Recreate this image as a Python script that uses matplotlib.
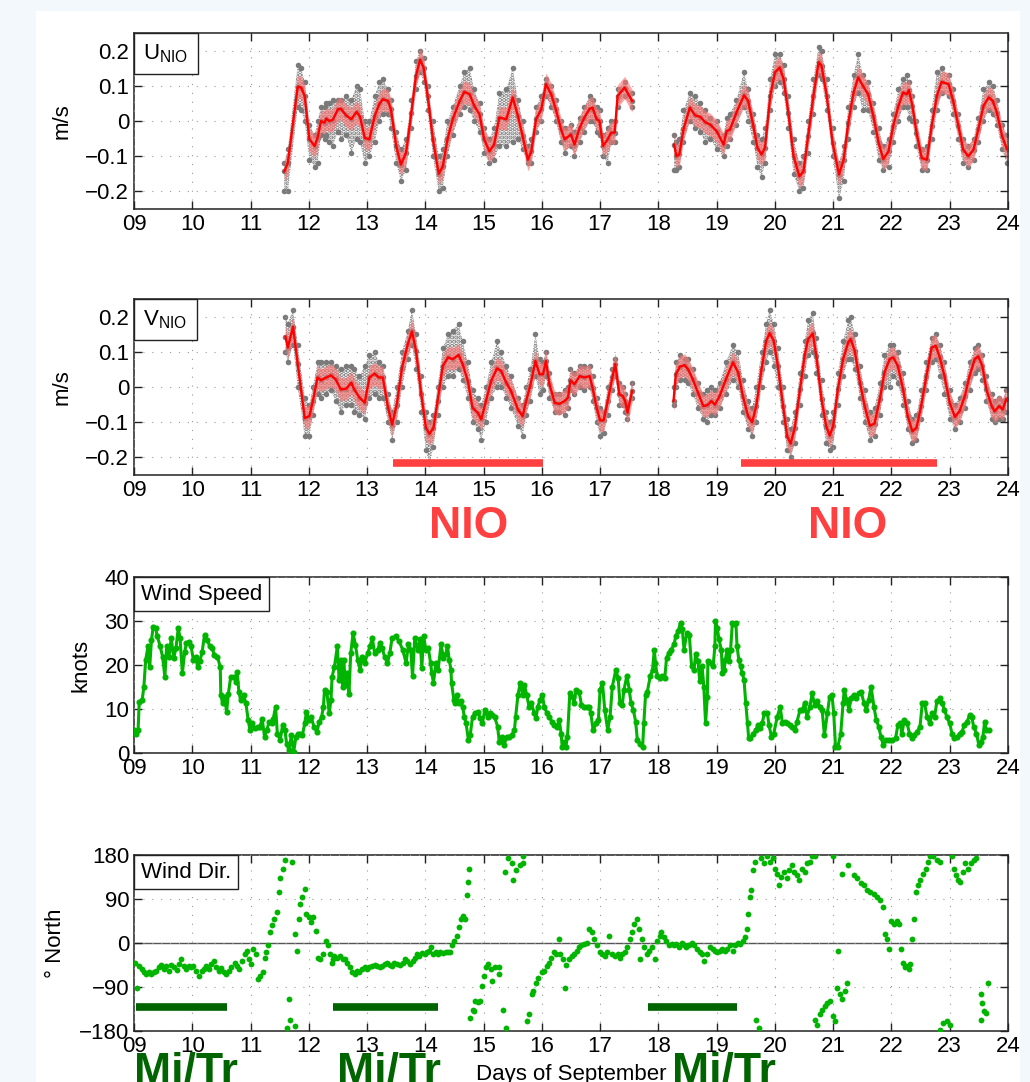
import numpy as np
import matplotlib
matplotlib.use('Agg')
import matplotlib.pyplot as plt
from matplotlib.offsetbox import AnchoredText
from matplotlib.patches import Rectangle

plt.rcParams['font.family'] = ['Liberation Sans', 'DejaVu Sans']
plt.rcParams['hatch.linewidth'] = 2.2

# ---- U_NIO (m/s): smoothed line and spread of the raw points, two segments
u1_t = [11.58, 11.64, 11.81, 11.87, 11.93, 12.01, 12.10, 12.15, 12.21, 12.27,
        12.30, 12.35, 12.41, 12.50, 12.55, 12.64, 12.73, 12.82, 12.88, 12.96,
        13.04, 13.13, 13.21, 13.27, 13.36, 13.41, 13.50, 13.58, 13.67, 13.76,
        13.84, 13.91, 13.97, 14.04, 14.13, 14.23, 14.30, 14.38, 14.47, 14.59,
        14.67, 14.76, 14.84, 14.93, 15.01, 15.10, 15.18, 15.27, 15.39, 15.50,
        15.59, 15.67, 15.76, 15.82, 15.90, 15.99, 16.07, 16.16, 16.24, 16.33,
        16.39, 16.50, 16.56, 16.65, 16.73, 16.82, 16.87, 16.94, 16.99, 17.05,
        17.13, 17.19, 17.25, 17.30, 17.42, 17.55]
u1_mean = [-0.143, -0.119, 0.098, 0.095, 0.071, -0.052, -0.071, -0.048, 0.0, -0.005,
           0.007, 0.0, 0.003, 0.033, 0.035, 0.016, 0.005, 0.026, 0.012, -0.048,
           -0.052, 0.014, 0.048, 0.062, 0.057, 0.033, -0.071, -0.124, -0.09, 0.024,
           0.129, 0.174, 0.152, 0.071, -0.052, -0.15, -0.129, -0.052, 0.005, 0.057,
           0.083, 0.076, 0.043, 0.019, -0.052, -0.086, -0.067, 0.01, 0.005, 0.067,
           0.014, -0.043, -0.11, -0.086, 0.005, 0.033, 0.105, 0.076, 0.033, -0.024,
           -0.052, -0.038, -0.067, -0.019, 0.01, 0.035, 0.038, 0.005, 0.0, -0.071,
           -0.052, -0.033, -0.033, 0.071, 0.095, 0.057]
u1_hi = [-0.12, -0.08, 0.16, 0.15, 0.11, -0.01, -0.04, 0.0, 0.04, 0.04,
         0.05, 0.05, 0.06, 0.06, 0.06, 0.07, 0.06, 0.10, 0.09, 0.0,
         0.0, 0.07, 0.11, 0.12, 0.09, 0.06, -0.03, -0.08, -0.05, 0.06,
         0.17, 0.20, 0.18, 0.10, 0.0, -0.10, -0.08, 0.0, 0.04, 0.10,
         0.14, 0.15, 0.09, 0.05, -0.02, -0.05, -0.02, 0.08, 0.09, 0.15,
         0.06, 0.0, -0.07, -0.05, 0.04, 0.07, 0.12, 0.10, 0.06, 0.0,
         -0.02, -0.01, -0.03, 0.01, 0.04, 0.07, 0.06, 0.04, 0.03, -0.04,
         -0.02, 0.0, 0.0, 0.09, 0.11, 0.08]
u1_lo = [-0.20, -0.20, 0.04, 0.03, 0.0, -0.11, -0.13, -0.12, -0.04, -0.05,
         -0.04, -0.06, -0.07, -0.03, -0.05, -0.04, -0.09, -0.05, -0.06, -0.12,
         -0.10, -0.06, 0.0, 0.02, 0.02, -0.02, -0.12, -0.17, -0.14, -0.02,
         0.09, 0.14, 0.11, 0.03, -0.10, -0.20, -0.19, -0.10, -0.04, 0.02,
         0.04, 0.03, 0.0, -0.03, -0.09, -0.12, -0.11, -0.07, -0.07, -0.06,
         -0.05, -0.08, -0.12, -0.12, -0.03, 0.0, 0.07, 0.04, 0.0, -0.06,
         -0.09, -0.07, -0.10, -0.06, -0.03, 0.0, 0.0, -0.03, -0.04, -0.10,
         -0.12, -0.06, -0.06, 0.04, 0.07, 0.04]

u2_t = [18.27, 18.31, 18.36, 18.43, 18.54, 18.63, 18.72, 18.80, 18.89, 19.00,
        19.12, 19.17, 19.23, 19.34, 19.47, 19.54, 19.63, 19.70, 19.77, 19.83,
        19.92, 20.00, 20.08, 20.15, 20.23, 20.32, 20.42, 20.49, 20.57, 20.66,
        20.75, 20.80, 20.89, 20.99, 21.10, 21.18, 21.26, 21.35, 21.43, 21.51,
        21.60, 21.69, 21.78, 21.86, 21.95, 22.03, 22.12, 22.20, 22.26, 22.30,
        22.36, 22.43, 22.52, 22.61, 22.69, 22.78, 22.86, 22.98, 23.06, 23.15,
        23.23, 23.32, 23.41, 23.49, 23.58, 23.67, 23.74, 23.81, 23.90, 23.98]
u2_mean = [-0.067, -0.1, -0.095, -0.024, 0.038, 0.016, 0.012, -0.003, -0.01, -0.029,
           -0.067, -0.029, -0.024, 0.024, 0.073, 0.057, -0.014, -0.076, -0.095, -0.076,
           0.071, 0.138, 0.152, 0.119, 0.024, -0.1, -0.157, -0.143, -0.043, 0.071,
           0.167, 0.157, 0.071, -0.062, -0.152, -0.11, -0.005, 0.081, 0.124, 0.1,
           0.076, 0.014, -0.062, -0.108, -0.086, -0.014, 0.043, 0.081, 0.076, 0.088,
           0.043, -0.033, -0.105, -0.11, -0.014, 0.071, 0.111, 0.105, 0.057, -0.014,
           -0.081, -0.1, -0.081, -0.024, 0.043, 0.067, 0.057, 0.024, -0.043, -0.079]
u2_hi = [-0.04, -0.06, -0.05, 0.03, 0.08, 0.07, 0.05, 0.03, 0.01, 0.0,
         -0.04, 0.01, 0.02, 0.06, 0.14, 0.09, 0.02, -0.04, -0.05, -0.02,
         0.12, 0.19, 0.19, 0.16, 0.07, -0.05, -0.12, -0.10, 0.0, 0.12,
         0.21, 0.20, 0.12, -0.02, -0.12, -0.07, 0.04, 0.13, 0.19, 0.13,
         0.11, 0.05, -0.02, -0.07, -0.05, 0.02, 0.09, 0.12, 0.13, 0.11,
         0.07, 0.0, -0.08, -0.07, 0.03, 0.14, 0.15, 0.13, 0.09, 0.02,
         -0.05, -0.07, -0.05, 0.01, 0.09, 0.11, 0.10, 0.06, -0.01, -0.04]
u2_lo = [-0.14, -0.14, -0.13, -0.06, 0.0, -0.02, -0.03, -0.06, -0.05, -0.08,
         -0.10, -0.07, -0.05, -0.01, 0.04, 0.0, -0.06, -0.13, -0.16, -0.12,
         0.03, 0.10, 0.11, 0.08, -0.02, -0.15, -0.20, -0.19, -0.09, 0.02,
         0.13, 0.12, 0.03, -0.10, -0.22, -0.17, -0.05, 0.04, 0.08, 0.03,
         0.03, -0.03, -0.11, -0.14, -0.13, -0.06, 0.0, 0.04, 0.04, 0.01,
         0.0, -0.07, -0.14, -0.14, -0.05, 0.03, 0.08, 0.07, 0.02, -0.05,
         -0.12, -0.13, -0.11, -0.06, 0.0, 0.03, 0.02, -0.01, -0.08, -0.12]

# ---- V_NIO (m/s)
v1_t = [11.60, 11.64, 11.73, 11.81, 11.93, 12.01, 12.07, 12.15, 12.21, 12.30,
        12.38, 12.46, 12.55, 12.64, 12.73, 12.78, 12.87, 12.96, 13.04, 13.13,
        13.20, 13.27, 13.36, 13.43, 13.51, 13.60, 13.70, 13.77, 13.84, 13.93,
        14.01, 14.07, 14.14, 14.21, 14.30, 14.39, 14.47, 14.57, 14.64, 14.73,
        14.81, 14.90, 14.96, 15.04, 15.13, 15.23, 15.30, 15.39, 15.47, 15.59,
        15.67, 15.73, 15.80, 15.89, 15.96, 16.02, 16.07, 16.13, 16.22, 16.30,
        16.39, 16.45, 16.49, 16.56, 16.65, 16.73, 16.82, 16.87, 16.94, 17.00,
        17.06, 17.13, 17.21, 17.26, 17.33, 17.39, 17.43, 17.47, 17.55]
v1_mean = [0.143, 0.112, 0.171, 0.065, -0.088, -0.083, -0.04, 0.027, 0.019, 0.027,
           0.033, 0.022, -0.007, -0.005, 0.012, -0.007, -0.03, -0.045, 0.027, 0.038,
           0.027, 0.027, -0.059, -0.107, -0.05, 0.055, 0.122, 0.158, 0.103, -0.021,
           -0.116, -0.133, -0.116, -0.04, 0.06, 0.084, 0.079, 0.091, 0.065, 0.017,
           -0.059, -0.073, -0.092, -0.04, 0.017, 0.053, 0.046, 0.012, -0.011, -0.064,
           -0.083, -0.04, 0.003, 0.074, 0.036, 0.036, 0.074, 0.008, -0.045, -0.048,
           -0.04, -0.03, 0.019, 0.008, 0.031, 0.027, 0.031, -0.002, -0.059, -0.095,
           -0.095, -0.04, 0.027, 0.065, -0.021, -0.026, -0.04, -0.073, -0.011]
v1_hi = [0.20, 0.18, 0.22, 0.12, -0.03, -0.05, 0.0, 0.07, 0.07, 0.07,
         0.07, 0.06, 0.05, 0.06, 0.06, 0.05, 0.03, 0.06, 0.09, 0.10,
         0.07, 0.06, -0.02, -0.07, 0.0, 0.10, 0.16, 0.22, 0.15, 0.03,
         -0.07, -0.10, -0.08, 0.0, 0.11, 0.15, 0.16, 0.18, 0.13, 0.07,
         -0.01, -0.03, -0.05, 0.0, 0.07, 0.13, 0.10, 0.06, 0.03, -0.03,
         -0.05, 0.0, 0.05, 0.15, 0.08, 0.07, 0.10, 0.04, -0.02, -0.02,
         -0.01, 0.0, 0.05, 0.04, 0.06, 0.06, 0.06, 0.03, -0.03, -0.06,
         -0.07, 0.0, 0.05, 0.08, 0.01, 0.0, -0.02, -0.05, 0.01]
v1_lo = [0.10, 0.07, 0.12, 0.0, -0.14, -0.14, -0.08, -0.02, -0.03, -0.02,
         -0.01, -0.04, -0.07, -0.05, -0.05, -0.07, -0.08, -0.09, -0.03, -0.02,
         -0.03, -0.03, -0.10, -0.15, -0.10, 0.0, 0.08, 0.12, 0.05, -0.07,
         -0.18, -0.22, -0.17, -0.08, 0.0, 0.03, 0.03, 0.05, 0.02, -0.03,
         -0.10, -0.12, -0.15, -0.10, -0.03, 0.0, 0.0, -0.03, -0.06, -0.11,
         -0.14, -0.08, -0.04, 0.03, -0.02, -0.01, 0.03, -0.03, -0.07, -0.07,
         -0.08, -0.06, -0.01, -0.02, 0.0, -0.01, 0.0, -0.04, -0.10, -0.14,
         -0.13, -0.08, -0.01, 0.03, -0.05, -0.05, -0.07, -0.09, -0.03]

v2_t = [18.26, 18.30, 18.37, 18.45, 18.51, 18.59, 18.68, 18.77, 18.84, 18.91,
        18.97, 19.05, 19.16, 19.28, 19.37, 19.45, 19.54, 19.61, 19.68, 19.77,
        19.85, 19.91, 19.98, 20.05, 20.14, 20.21, 20.27, 20.34, 20.43, 20.51,
        20.57, 20.65, 20.71, 20.80, 20.88, 20.94, 21.00, 21.08, 21.17, 21.26,
        21.30, 21.37, 21.46, 21.54, 21.63, 21.71, 21.80, 21.88, 21.97, 22.03,
        22.11, 22.20, 22.28, 22.36, 22.43, 22.51, 22.60, 22.69, 22.76, 22.83,
        22.91, 23.00, 23.09, 23.17, 23.26, 23.34, 23.43, 23.49, 23.56, 23.63,
        23.72, 23.77, 23.85, 23.91, 23.97]
v2_mean = [-0.04, 0.036, 0.058, 0.062, 0.05, 0.022, -0.016, -0.054, -0.052, -0.04,
           -0.05, -0.026, 0.022, 0.07, 0.041, -0.026, -0.083, -0.1, -0.054, 0.05,
           0.131, 0.153, 0.131, 0.06, -0.054, -0.14, -0.161, -0.116, -0.007, 0.089,
           0.136, 0.152, 0.089, -0.035, -0.111, -0.138, -0.111, -0.007, 0.079, 0.127,
           0.136, 0.103, 0.012, -0.054, -0.11, -0.104, -0.035, 0.041, 0.079, 0.084,
           0.06, -0.007, -0.083, -0.126, -0.116, -0.054, 0.031, 0.112, 0.117, 0.084,
           0.031, -0.045, -0.085, -0.069, -0.026, 0.031, 0.079, 0.087, 0.06, -0.007,
           -0.054, -0.069, -0.054, -0.064, -0.035]
v2_hi = [0.0, 0.07, 0.09, 0.08, 0.08, 0.05, 0.01, -0.02, -0.01, 0.0,
         -0.01, 0.01, 0.07, 0.12, 0.10, 0.02, -0.04, -0.06, 0.0, 0.10,
         0.18, 0.22, 0.18, 0.11, 0.0, -0.09, -0.12, -0.07, 0.04, 0.13,
         0.19, 0.21, 0.14, 0.02, -0.07, -0.10, -0.07, 0.04, 0.13, 0.19,
         0.20, 0.15, 0.06, -0.01, -0.07, -0.06, 0.01, 0.09, 0.12, 0.12,
         0.10, 0.04, -0.04, -0.09, -0.08, -0.01, 0.07, 0.14, 0.15, 0.12,
         0.07, -0.01, -0.05, -0.03, 0.01, 0.07, 0.11, 0.12, 0.09, 0.03,
         -0.02, -0.04, -0.03, -0.04, -0.01]
v2_lo = [-0.05, 0.0, 0.02, 0.02, 0.01, -0.02, -0.06, -0.09, -0.10, -0.08,
         -0.08, -0.06, -0.02, 0.02, 0.0, -0.07, -0.12, -0.14, -0.10, 0.0,
         0.07, 0.10, 0.06, 0.0, -0.10, -0.18, -0.20, -0.16, -0.05, 0.03,
         0.09, 0.10, 0.04, -0.08, -0.16, -0.18, -0.17, -0.05, 0.03, 0.08,
         0.08, 0.05, -0.03, -0.10, -0.15, -0.14, -0.08, 0.0, 0.0, 0.03,
         0.01, -0.05, -0.12, -0.16, -0.15, -0.09, -0.01, 0.07, 0.08, 0.03,
         -0.02, -0.09, -0.12, -0.10, -0.06, -0.01, 0.04, 0.05, 0.02, -0.04,
         -0.09, -0.10, -0.09, -0.09, -0.07]

band_half = 0.032  # half width of the pink confidence band (m/s)

# ---- wind speed (knots)
ws_t = [9.00, 9.03, 9.07, 9.09, 9.14, 9.17, 9.20, 9.24, 9.27, 9.30,
        9.33, 9.37, 9.40, 9.45, 9.49, 9.53, 9.56, 9.60, 9.64, 9.68,
        9.72, 9.76, 9.79, 9.83, 9.87, 9.90, 9.94, 9.98, 10.02, 10.06,
        10.09, 10.13, 10.17, 10.21, 10.26, 10.30, 10.34, 10.38, 10.43, 10.48,
        10.49, 10.52, 10.55, 10.59, 10.62, 10.66, 10.71, 10.75, 10.77, 10.80,
        10.83, 10.88, 10.92, 10.96, 10.99, 11.03, 11.07, 11.12, 11.16, 11.20,
        11.24, 11.28, 11.32, 11.36, 11.39, 11.43, 11.46, 11.51, 11.55, 11.59,
        11.62, 11.66, 11.70, 11.74, 11.78, 11.82, 11.85, 11.89, 11.93, 11.96,
        12.00, 12.04, 12.09, 12.14, 12.18, 12.22, 12.25, 12.27, 12.31, 12.35,
        12.38, 12.40, 12.44, 12.49, 12.52, 12.55, 12.58, 12.60, 12.63, 12.66,
        12.69, 12.72, 12.76, 12.80, 12.84, 12.88, 12.92, 12.96, 13.01, 13.05,
        13.09, 13.13, 13.18, 13.22, 13.26, 13.30, 13.35, 13.39, 13.43, 13.49,
        13.55, 13.61, 13.67, 13.71, 13.75, 13.78, 13.82, 13.87, 13.91, 13.94,
        13.97, 14.01, 14.05, 14.09, 14.11, 14.14, 14.18, 14.22, 14.27, 14.31,
        14.35, 14.38, 14.41, 14.44, 14.45, 14.49, 14.51, 14.54, 14.58, 14.61,
        14.64, 14.67, 14.70, 14.74, 14.77, 14.81, 14.85, 14.90, 14.94, 14.98,
        15.02, 15.07, 15.11, 15.15, 15.19, 15.24, 15.27, 15.31, 15.35, 15.40,
        15.44, 15.48, 15.53, 15.55, 15.59, 15.63, 15.67, 15.70, 15.74, 15.78,
        15.82, 15.87, 15.90, 15.93, 15.97, 16.01, 16.04, 16.09, 16.13, 16.17,
        16.21, 16.26, 16.30, 16.33, 16.35, 16.38, 16.41, 16.44, 16.48, 16.53,
        16.55, 16.59, 16.64, 16.68, 16.73, 16.77, 16.81, 16.84, 16.88, 16.93,
        16.97, 17.00, 17.04, 17.08, 17.13, 17.17, 17.21, 17.27, 17.31, 17.34,
        17.38, 17.41, 17.46, 17.50, 17.53, 17.57, 17.61, 17.64, 17.69, 17.73,
        17.75, 17.78, 17.81, 17.86, 17.90, 17.93, 17.95, 17.98, 18.03, 18.07,
        18.11, 18.14, 18.18, 18.22, 18.27, 18.30, 18.34, 18.38, 18.41, 18.44,
        18.49, 18.53, 18.57, 18.61, 18.64, 18.68, 18.71, 18.75,
        18.78, 18.81, 18.84, 18.85, 18.90, 18.94, 18.97, 18.98, 19.01, 19.04,
        19.08, 19.10, 19.13, 19.15, 19.18, 19.21, 19.24, 19.27, 19.30, 19.33,
        19.35, 19.38, 19.41, 19.44, 19.47, 19.50, 19.53, 19.55, 19.58, 19.63,
        19.67, 19.71, 19.75, 19.78, 19.82, 19.87, 19.90, 19.94, 19.98, 20.04,
        20.09, 20.13, 20.17, 20.21, 20.26, 20.30, 20.34, 20.38, 20.43, 20.47,
        20.51, 20.55, 20.60, 20.64, 20.68, 20.73, 20.77, 20.81, 20.85, 20.90,
        20.94, 20.98, 21.01, 21.04, 21.08, 21.13, 21.17, 21.19, 21.23, 21.27,
        21.31, 21.35, 21.40, 21.44, 21.48, 21.53, 21.57, 21.61, 21.65, 21.70,
        21.74, 21.78, 21.82, 21.86, 21.90, 21.95, 22.01, 22.07, 22.11, 22.15,
        22.18, 22.22, 22.27, 22.31, 22.35, 22.39, 22.44, 22.49, 22.53, 22.57,
        22.61, 22.66, 22.70, 22.74, 22.78, 22.83, 22.87, 22.91, 22.95, 23.00,
        23.04, 23.08, 23.13, 23.17, 23.21, 23.25, 23.30, 23.34, 23.38, 23.41,
        23.46, 23.50, 23.54, 23.57, 23.60, 23.63, 23.67]
ws_knots = [5.2, 4.4, 5.2, 11.6, 12.0, 15.1, 21.1, 24.2, 19.6, 25.7,
            28.7, 28.4, 26.5, 24.2, 21.9, 17.3, 24.2, 21.9, 26.1, 21.5,
            23.8, 28.4, 26.1, 18.1, 23.0, 24.9, 25.3, 24.2, 21.1, 21.9,
            19.6, 20.8, 23.0, 26.8, 25.7, 24.2, 23.8, 22.3, 21.9, 19.6,
            13.2, 11.3, 12.8, 9.4, 13.5, 17.3, 17.3, 16.2, 18.5, 13.9,
            12.0, 13.2, 11.3, 7.5, 5.2, 6.7, 5.6, 5.9, 5.9, 7.8,
            3.7, 5.2, 7.1, 6.7, 7.8, 10.5, 4.4, 2.9, 6.3, 5.2,
            2.1, 0.6, 4.0, 0.2, 3.7, 4.4, 4.4, 4.0, 6.7, 9.4,
            7.5, 8.2, 5.9, 4.8, 7.1, 8.2, 10.5, 14.3, 13.9, 9.0,
            12.0, 17.3, 19.6, 24.2, 16.6, 21.1, 15.1, 21.1, 15.4, 18.1,
            13.5, 22.7, 27.2, 24.6, 21.1, 18.9, 21.9, 20.4, 22.7, 24.2,
            26.1, 22.7, 23.4, 24.9, 23.8, 21.9, 20.4, 22.7, 26.1, 26.5,
            25.4, 23.5, 20.5, 24.7, 23.5, 17.4, 26.2, 23.5, 25.8, 19.3,
            26.6, 23.5, 23.9, 20.5, 18.2, 15.9, 20.5, 18.9, 24.7, 21.6,
            22.4, 24.3, 21.2, 18.9, 15.9, 12.1, 11.3, 13.2, 11.3, 11.7,
            10.5, 8.2, 6.7, 2.9, 4.0, 8.2, 9.0, 9.4, 7.9, 6.7,
            9.8, 8.2, 9.0, 8.6, 8.2, 6.0, 2.5, 3.7, 1.8, 3.7,
            3.7, 4.0, 5.2, 8.2, 13.2, 15.9, 13.2, 15.5, 13.2, 10.5,
            11.3, 9.0, 7.9, 10.5, 12.1, 13.2, 10.5, 9.0, 8.2, 7.1,
            6.3, 6.0, 7.5, 4.4, 1.4, 2.5, 1.4, 3.7, 13.6, 12.8,
            11.3, 14.4, 13.9, 10.9, 10.5, 10.5, 10.5, 9.0, 5.2, 6.7,
            7.5, 14.4, 15.9, 9.8, 5.2, 8.2, 15.1, 18.9, 17.0, 11.3,
            10.9, 14.4, 17.6, 14.4, 11.3, 9.8, 7.1, 2.9, 2.1, 1.4,
            6.7, 13.2, 13.9, 17.4, 18.9, 23.5, 20.5, 17.4, 17.0, 17.4,
            17.0, 21.6, 22.7, 23.5, 24.7, 26.6, 27.7, 29.6, 28.1, 23.5,
            27.3, 26.9, 19.7, 18.9, 22.4, 20.8, 16.3, 19.7,
            15.1, 6.7, 12.8, 20.8, 20.5, 19.7, 24.3, 30.0, 28.5, 25.8,
            23.5, 18.2, 18.9, 21.2, 23.5, 20.8, 23.5, 29.6, 29.2, 29.6,
            24.3, 21.2, 19.7, 18.2, 16.6, 11.3, 6.7, 3.3, 3.3, 4.4,
            5.2, 6.3, 5.6, 6.7, 9.0, 9.0, 6.3, 3.7, 4.4, 8.2,
            10.5, 6.7, 7.1, 6.7, 6.3, 6.0, 5.2, 7.1, 9.8, 9.8,
            11.3, 8.2, 10.5, 13.6, 10.9, 11.7, 10.5, 9.8, 4.0, 9.0,
            12.8, 13.2, 9.0, 1.4, 1.4, 4.4, 11.3, 14.4, 12.1, 9.8,
            12.4, 13.2, 12.4, 13.6, 13.9, 11.3, 9.8, 12.1, 15.1, 10.5,
            7.5, 6.0, 3.7, 1.8, 2.9, 2.9, 2.9, 3.3, 6.3, 6.7,
            4.4, 7.5, 6.7, 4.4, 3.3, 4.0, 4.8, 6.0, 11.3, 11.3,
            8.2, 6.7, 9.0, 8.2, 11.7, 12.4, 11.3, 9.8, 8.2, 6.7,
            4.4, 3.3, 3.7, 4.4, 4.8, 6.3, 7.1, 8.6, 8.2, 6.0,
            4.4, 1.8, 2.5, 3.7, 7.1, 5.2, 5.2]

# ---- wind direction (degrees from north)
wd_t = [9.01, 9.05, 9.09, 9.13, 9.17, 9.21, 9.26, 9.30, 9.34, 9.38,
        9.43, 9.47, 9.51, 9.55, 9.60, 9.64, 9.68, 9.73, 9.77, 9.81,
        9.85, 9.90, 9.94, 9.98, 10.02, 10.07, 10.12, 10.16, 10.20, 10.24,
        10.29, 10.33, 10.37, 10.41, 10.46, 10.50, 10.54, 10.58, 10.63, 10.67,
        10.73, 10.77, 10.81, 10.86, 10.90, 10.94, 10.97, 11.01, 11.05, 11.09,
        11.13, 11.17, 11.21, 11.24, 11.27, 11.30, 11.34, 11.37, 11.41, 11.45,
        11.49, 11.51, 11.55, 11.59, 11.63, 11.66, 11.68, 11.72, 11.76, 11.76,
        11.80, 11.83, 11.85, 11.89, 11.93, 11.96, 12.00, 12.04, 12.08, 12.12,
        12.16, 12.20, 12.24, 12.29, 12.33, 12.36, 12.39, 12.42, 12.44, 12.48,
        12.53, 12.58, 12.62, 12.66, 12.70, 12.75, 12.79, 12.83, 12.87, 12.92,
        12.96, 13.00, 13.04, 13.09, 13.13, 13.17, 13.22, 13.26, 13.30, 13.34,
        13.39, 13.43, 13.47, 13.51, 13.56, 13.61, 13.65, 13.69, 13.73, 13.78,
        13.82, 13.86, 13.90, 13.95, 13.99, 14.03, 14.07, 14.10, 14.13, 14.18,
        14.22, 14.26, 14.30, 14.35, 14.39, 14.42, 14.46, 14.50, 14.54, 14.58,
        14.62, 14.65, 14.68, 14.72, 14.73, 14.75, 14.77, 14.81, 14.83, 14.86,
        14.90, 14.93, 14.98, 15.00, 15.04, 15.08, 15.12, 15.15, 15.19, 15.27,
        15.27, 15.33, 15.36, 15.39, 15.42, 15.48, 15.51, 15.56, 15.62, 15.67,
        15.68, 15.74, 15.78, 15.83, 15.85, 15.90, 15.94, 16.00, 16.03, 16.08,
        16.12, 16.16, 16.20, 16.25, 16.29, 16.32, 16.37, 16.39, 16.42, 16.47,
        16.51, 16.55, 16.60, 16.64, 16.68, 16.73, 16.77, 16.81, 16.86, 16.90,
        16.95, 16.99, 17.03, 17.08, 17.12, 17.16, 17.20, 17.25, 17.30, 17.34,
        17.38, 17.43, 17.47, 17.51, 17.55, 17.59, 17.63, 17.66, 17.69, 17.72,
        17.76, 17.80, 17.84, 17.89, 17.94, 17.98, 18.02, 18.05, 18.09, 18.13,
        18.18, 18.23, 18.27, 18.31, 18.36, 18.40, 18.44, 18.48, 18.53, 18.58,
        18.62, 18.66, 18.71, 18.75, 18.79, 18.83, 18.88, 18.93, 18.97, 19.01,
        19.05, 19.10, 19.14, 19.18, 19.23, 19.28, 19.32, 19.36, 19.40, 19.45,
        19.49, 19.52, 19.53, 19.57, 19.59, 19.62, 19.65, 19.68, 19.72, 19.76,
        19.81, 19.87, 19.92, 19.96, 20.00, 20.03, 20.07, 20.11, 20.16, 20.21,
        20.25, 20.29, 20.33, 20.38, 20.42, 20.46, 20.51, 20.55, 20.60, 20.64,
        20.68, 20.68, 20.73, 20.77, 20.81, 20.86, 20.90, 20.94, 20.99, 21.00,
        21.03, 21.06, 21.09, 21.12, 21.15, 21.16, 21.21, 21.24, 21.26, 21.35,
        21.41, 21.47, 21.53, 21.58, 21.64, 21.70, 21.76, 21.80, 21.85, 21.89,
        21.93, 21.96, 22.00, 22.05, 22.09, 22.13, 22.16, 22.19, 22.23, 22.25,
        22.30, 22.32, 22.36, 22.38, 22.43, 22.46, 22.49, 22.54, 22.59, 22.63,
        22.67, 22.72, 22.78, 22.84, 22.84, 22.89, 22.95, 23.01, 23.04, 23.07,
        23.10, 23.14, 23.18, 23.23, 23.27, 23.31, 23.36, 23.41, 23.45, 23.53,
        23.53, 23.56, 23.59, 23.62, 23.65]
wd_deg = [-40, -91, -47, -54, -60, -64, -59, -64, -60, -57,
          -50, -45, -54, -47, -57, -45, -50, -55, -43, -33,
          -47, -54, -47, -50, -48, -57, -67, -57, -54, -47,
          -54, -43, -36, -50, -57, -52, -60, -64, -57, -50,
          -40, -47, -54, -36, -23, -16, -33, -43, -12, -23,
          -74, -67, -60, -30, -19, -5, 22, 36, 49, 63,
          104, 132, 152, 170, -174, -115, -157, 166, -170, 19,
          -16, 49, 80, 94, 111, 60, 53, 43, 53, 25,
          -30, -33, -23, 5, -5, -23, -40, -33, -26, -30,
          -26, -33, -33, -40, -50, -60, -64, -57, -59, -54,
          -50, -54, -50, -47, -45, -48, -50, -47, -43, -41,
          -45, -47, -41, -43, -45, -40, -33, -36, -43, -36,
          -30, -23, -26, -21, -23, -19, -16, -9, -23, -19,
          -23, -18, -21, -19, -18, -19, -5, 5, 15, 32,
          49, 56, 49, 98, 125, 151, -153, -136, -139, -119,
          -121, -119, -88, -67, -50, -43, -54, -78, -50, -50,
          -64, -136, 146, -174, 173, 163, 128, 149, 159, 178,
          163, -160, -146, -105, -98, -81, -71, -60, -57, -47,
          -41, -30, -19, -23, 8, -23, -33, -91, -45, -33,
          -26, -23, -16, -9, -5, -2, 1, 29, 22, 8,
          -5, -19, -23, -26, -19, 15, -23, -26, -23, -30,
          -23, -19, -9, 8, 22, 39, 49, 29, -33, 8,
          -9, -23, -16, -9, -33, 5, 15, 22, 12, 5,
          -5, -2, -5, -2, -9, 1, -5, -9, -4, 1,
          -5, -12, -19, -23, -36, -23, -9, -12, -16, -19,
          -16, -12, -16, -12, -5, -16, -5, 1, -2, 5,
          12, 29, 60, 94, 108, 149, 166, -157, -174, 173,
          163, 177, 166, 173, 152, 142, 118, 135, 146, 132,
          149, 159, 146, 139, 128, 152, 146, 163, 166, 177,
          178, -157, -167, -146, -136, -129, -122, -119, -150, 178,
          -160, -91, -16, -105, 142, -115, -98, -81, 159, 139,
          132, 122, 118, 108, 104, 101, 94, 87, 74, 19,
          8, -12, 46, 39, 46, 39, -12, -40, -50, -47,
          -54, -43, 8, 49, 104, 118, 128, 142, 152, 166,
          177, 178, 170, 166, -177, -163, -160, -167, 178, 152,
          139, 128, 125, 146, 163, 152, 163, 170, 173, -105,
          -157, -122, -139, -143, -81]

# ---- annotation bars (day ranges)
nio_start = [13.44, 19.42]
nio_end = [16.02, 22.78]
nio_label_x = [14.75, 21.24]
mitr_start = [9.03, 12.41, 17.82]
mitr_end = [10.60, 14.21, 19.35]
mitr_label_x = [9.0, 12.48, 18.23]

days = np.arange(9, 25)

RED = '#ff0000'
NIO_RED = '#ff4040'
GREEN = '#00b400'
DKGREEN = '#006400'
GRAY = '#7a7a7a'

fig = plt.figure(figsize=(10.3, 10.82), dpi=100)
fig.patch.set_facecolor('#f3f8fc')
fig.add_artist(Rectangle((0.035, 0.0), 0.9553, 0.9898, transform=fig.transFigure,
                         facecolor='white', edgecolor='none', zorder=-10))

left, width, height = 0.1301, 0.8485, 0.1627
bottoms = [0.8068, 0.5610, 0.3041, 0.0471]
axes = [fig.add_axes([left, b, width, height]) for b in bottoms]


def style_axis(ax, label, ylabel, pad=0.3):
    ax.set_xlim(9, 24)
    ax.set_xticks(days)
    ax.set_xticklabels(['%02d' % d for d in days])
    ax.grid(True, color='#9a9a9a', linestyle=(0, (1, 7)), linewidth=0.8)
    ax.set_axisbelow(False)
    ax.tick_params(direction='in', top=True, right=True, length=6, width=1,
                   labelsize=16, colors='#222222', labelcolor='black')
    for sp in ax.spines.values():
        sp.set_linewidth(1.2)
        sp.set_color('#333333')
    ax.set_ylabel(ylabel, fontsize=16, labelpad=9)
    at = AnchoredText(label, loc='upper left', pad=pad, borderpad=0.0,
                      prop=dict(size=16), frameon=True)
    at.patch.set_boxstyle('square,pad=0')
    at.patch.set_linewidth(1.0)
    at.patch.set_edgecolor('#222222')
    at.zorder = 10
    ax.add_artist(at)


def nio_panel(ax, seg1, seg2):
    for t, m, hi, lo in (seg1, seg2):
        t = np.asarray(t)
        m = np.asarray(m)
        # the raw points fill the space between their upper and lower spread
        ax.fill_between(t, lo, hi, facecolor='none', edgecolor=GRAY, lw=0,
                        hatch='....', zorder=1)
        ax.plot(t, hi, 'o', color=GRAY, ms=4, mec='none', zorder=2)
        ax.plot(t, lo, 'o', color=GRAY, ms=4, mec='none', zorder=2)
        ax.plot(t, m, 'o', color=GRAY, ms=4, mec='none', zorder=2)
        ax.fill_between(t, m - band_half, m + band_half, color='#ff7373',
                        alpha=0.62, lw=0, zorder=3)
        ax.plot(t, m, '-', color=RED, lw=1.7, zorder=4)
    ax.set_ylim(-0.25, 0.25)
    ax.set_yticks([-0.2, -0.1, 0, 0.1, 0.2])
    ax.set_yticklabels(['\u22120.2', '\u22120.1', '0', '0.1', '0.2'])


ax1, ax2, ax3, ax4 = axes

nio_panel(ax1, (u1_t, u1_mean, u1_hi, u1_lo), (u2_t, u2_mean, u2_hi, u2_lo))
style_axis(ax1, 'U$_{\\mathregular{NIO}}$', 'm/s', pad=0.42)

nio_panel(ax2, (v1_t, v1_mean, v1_hi, v1_lo), (v2_t, v2_mean, v2_hi, v2_lo))
style_axis(ax2, 'V$_{\\mathregular{NIO}}$', 'm/s', pad=0.42)
for s, e in zip(nio_start, nio_end):
    ax2.plot([s, e], [-0.215, -0.215], color=NIO_RED, lw=5.5,
             solid_capstyle='butt', zorder=6)
for x in nio_label_x:
    ax2.text(x, -0.36, 'NIO', transform=ax2.get_xaxis_transform(),
             ha='center', va='baseline', fontsize=32, fontweight='bold',
             color=NIO_RED)

ax3.plot(ws_t, ws_knots, '-o', color=GREEN, lw=2.2, ms=3.4, mec=GREEN, zorder=3)
ax3.set_ylim(0, 40)
ax3.set_yticks([0, 10, 20, 30, 40])
style_axis(ax3, 'Wind Speed', 'knots')

ax4.axhline(0, color='#555555', lw=1.0, zorder=2)
ax4.plot(wd_t, wd_deg, 'o', color=GREEN, ms=4.2, mec='none', zorder=3)
ax4.set_ylim(-180, 180)
ax4.set_yticks([-180, -90, 0, 90, 180])
ax4.set_yticklabels(['\u2212180', '\u221290', '0', '90', '180'])
style_axis(ax4, 'Wind Dir.', '\u00b0 North')
ax4.set_xlabel('Days of September', fontsize=16, labelpad=5)
for s, e in zip(mitr_start, mitr_end):
    ax4.plot([s, e], [-131, -131], color=DKGREEN, lw=5.5,
             solid_capstyle='butt', zorder=6)
for x in mitr_label_x:
    ax4.text(x, -0.30, 'Mi/Tr', transform=ax4.get_xaxis_transform(),
             ha='left', va='baseline', fontsize=32, fontweight='bold',
             color=DKGREEN, zorder=10)

fig.savefig('out.png', dpi=100, facecolor=fig.get_facecolor())
